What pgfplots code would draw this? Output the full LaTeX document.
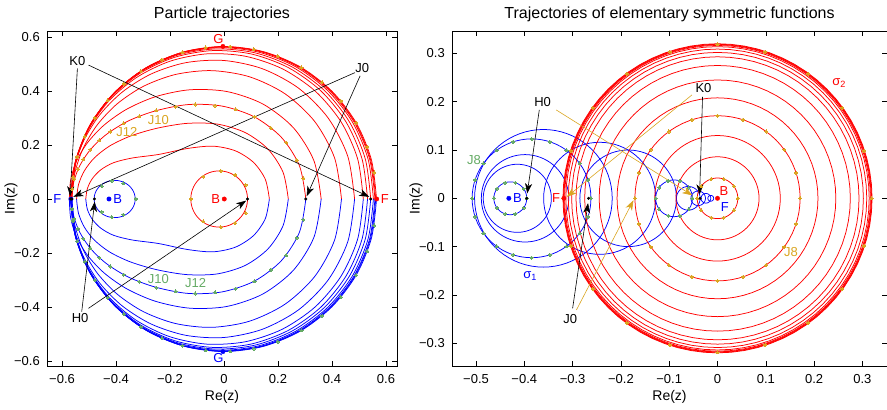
\documentclass[border=0pt]{standalone}
\usepackage{fontspec}
\setmainfont{Liberation Sans}
\usepackage{pgfplots}
\pgfplotsset{compat=1.18}
\usepackage{pgfplotstable}
\usetikzlibrary{arrows.meta}
\definecolor{jor}{RGB}{218,165,32}
\definecolor{jgr}{RGB}{100,170,100}
\newcommand{\fs}{\fontsize{13bp}{15bp}\selectfont}
\newcommand{\fl}{\fontsize{14bp}{16bp}\selectfont}
\newcommand{\ft}{\fontsize{16bp}{18bp}\selectfont}

\pgfplotstableread{
c s
1 0
0.99619 0.08716
0.98481 0.17365
0.96593 0.25882
0.93969 0.34202
0.90631 0.42262
0.86603 0.5
0.81915 0.57358
0.76604 0.64279
0.70711 0.70711
0.64279 0.76604
0.57358 0.81915
0.5 0.86603
0.42262 0.90631
0.34202 0.93969
0.25882 0.96593
0.17365 0.98481
0.08716 0.99619
0 1
-0.08716 0.99619
-0.17365 0.98481
-0.25882 0.96593
-0.34202 0.93969
-0.42262 0.90631
-0.5 0.86603
-0.57358 0.81915
-0.64279 0.76604
-0.70711 0.70711
-0.76604 0.64279
-0.81915 0.57358
-0.86603 0.5
-0.90631 0.42262
-0.93969 0.34202
-0.96593 0.25882
-0.98481 0.17365
-0.99619 0.08716
-1 0
-0.99619 -0.08716
-0.98481 -0.17365
-0.96593 -0.25882
-0.93969 -0.34202
-0.90631 -0.42262
-0.86603 -0.5
-0.81915 -0.57358
-0.76604 -0.64279
-0.70711 -0.70711
-0.64279 -0.76604
-0.57358 -0.81915
-0.5 -0.86603
-0.42262 -0.90631
-0.34202 -0.93969
-0.25882 -0.96593
-0.17365 -0.98481
-0.08716 -0.99619
0 -1
0.08716 -0.99619
0.17365 -0.98481
0.25882 -0.96593
0.34202 -0.93969
0.42262 -0.90631
0.5 -0.86603
0.57358 -0.81915
0.64279 -0.76604
0.70711 -0.70711
0.76604 -0.64279
0.81915 -0.57358
0.86603 -0.5
0.90631 -0.42262
0.93969 -0.34202
0.96593 -0.25882
0.98481 -0.17365
0.99619 -0.08716
1 0
}\unitcircle

\pgfplotstableread{
c s
1 0
0.95106 0.30902
0.80902 0.58779
0.58779 0.80902
0.30902 0.95106
0 1
-0.30902 0.95106
-0.58779 0.80902
-0.80902 0.58779
-0.95106 0.30902
-1 0
-0.95106 -0.30902
-0.80902 -0.58779
-0.58779 -0.80902
-0.30902 -0.95106
0 -1
0.30902 -0.95106
0.58779 -0.80902
0.80902 -0.58779
0.95106 -0.30902
}\dotsA

\pgfplotstableread{
c s
1 0
0.80902 0.58779
0.30902 0.95106
-0.30902 0.95106
-0.80902 0.58779
-1 0
-0.80902 -0.58779
-0.30902 -0.95106
0.30902 -0.95106
0.80902 -0.58779
}\dotsB

% ---- left plot: upper halves of the particle trajectories (red); lower halves are their mirror images (blue)
\pgfplotstableread{
x y
0.168 0
0.1527 0.0735
0.1089 0.1359
0.0421 0.1784
-0.0408 0.1956
-0.1356 0.1870
-0.2425 0.1649
-0.3400 0.1518
-0.4089 0.1345
-0.4566 0.1079
-0.4882 0.0748
-0.5061 0.0382
-0.512 0
}\tB
\pgfplotstableread{
x y
0.2381 0
0.2185 0.0993
0.1627 0.1849
0.0783 0.2461
-0.0248 0.2774
-0.1366 0.2801
-0.2475 0.2622
-0.3459 0.2333
-0.4234 0.1964
-0.4798 0.1526
-0.5175 0.1039
-0.5391 0.0525
-0.5461 0
}\tC
\pgfplotstableread{
x y
0.3031 0
0.2796 0.1225
0.2127 0.2281
0.1126 0.3041
-0.0072 0.3441
-0.1326 0.3497
-0.2535 0.3265
-0.3542 0.2892
-0.4353 0.2394
-0.4946 0.1831
-0.5342 0.1233
-0.5568 0.0620
-0.5641 0
}\tD
\pgfplotstableread{
x y
0.3599 0
0.3330 0.1418
0.2568 0.2641
0.1437 0.3519
0.0101 0.3981
-0.1271 0.4044
-0.2540 0.3788
-0.3615 0.3319
-0.4456 0.2725
-0.5067 0.2069
-0.5473 0.1385
-0.5680 0.0693
-0.5730 0
}\tE
\pgfplotstableread{
x y
0.4351 0
0.4095 0.1520
0.3364 0.2864
0.2263 0.3894
0.0937 0.4528
-0.0462 0.4754
-0.1800 0.4611
-0.2983 0.4174
-0.3957 0.3524
-0.4703 0.2734
-0.5224 0.1859
-0.5530 0.0940
-0.5631 0
}\tF
\pgfplotstableread{
x y
0.4836 0
0.4584 0.1580
0.3861 0.2994
0.2762 0.4104
0.1420 0.4825
-0.0019 0.5131
-0.1425 0.5047
-0.2697 0.4631
-0.3770 0.3959
-0.4612 0.3104
-0.5211 0.2128
-0.5568 0.1080
-0.5686 0
}\tG
\pgfplotstableread{
x y
0.5159 0
0.4948 0.1489
0.4335 0.2857
0.3377 0.3996
0.2160 0.4822
0.0785 0.5288
-0.0640 0.5375
-0.2014 0.5098
-0.3250 0.4493
-0.4277 0.3616
-0.5045 0.2528
-0.5519 0.1299
-0.5679 0
}\tH
\pgfplotstableread{
x y
0.5316 0
0.5112 0.1484
0.4518 0.2854
0.3583 0.4008
0.2384 0.4865
0.1014 0.5370
-0.0425 0.5496
-0.1831 0.5247
-0.3112 0.4653
-0.4188 0.3763
-0.5000 0.2642
-0.5505 0.1361
-0.5676 0
}\tI
\pgfplotstableread{
x y
0.5434 0
0.5234 0.1476
0.4652 0.2844
0.3731 0.4006
0.2542 0.4879
0.1174 0.5407
-0.0275 0.5559
-0.1704 0.5332
-0.3017 0.4749
-0.4131 0.3856
-0.4977 0.2714
-0.5504 0.1401
-0.5684 0
}\tJ
\pgfplotstableread{
x y
0.5534 0
0.5336 0.1475
0.4758 0.2845
0.3842 0.4012
0.2657 0.4896
0.1287 0.5438
-0.0170 0.5604
-0.1614 0.5388
-0.2947 0.4810
-0.4082 0.3912
-0.4948 0.2759
-0.5489 0.1425
-0.5674 0
}\tK
\pgfplotstableread{
x y
0.5590 0
0.5395 0.1472
0.4821 0.2841
0.3911 0.4011
0.2730 0.4902
0.1361 0.5454
-0.0100 0.5630
-0.1553 0.5424
-0.2900 0.4850
-0.4051 0.3951
-0.4931 0.2789
-0.5483 0.1442
-0.5670 0
}\tL
\pgfplotstableread{
x y
0.5620 0
0.5427 0.1460
0.4860 0.2826
0.3960 0.4000
0.2785 0.4895
0.1420 0.5455
-0.0050 0.5640
-0.1505 0.5440
-0.2860 0.4875
-0.4020 0.3972
-0.4910 0.2810
-0.5470 0.1452
-0.5665 0
}\tLb
\pgfplotstableread{
x y
0.565 0
0.5457 0.1462
0.4893 0.2825
0.3995 0.3995
0.2825 0.4893
0.1462 0.5457
0 0.565
-0.1462 0.5457
-0.2825 0.4893
-0.3995 0.3995
-0.4893 0.2825
-0.5457 0.1462
-0.565 0
}\tM
% time marks on the J0 trajectory (upper half) and on the outer trajectory (upper half)
\pgfplotstableread{
x y
0.294 0.077
0.269 0.144
0.230 0.209
0.174 0.262
0.113 0.304
0.043 0.332
-0.033 0.346
-0.107 0.350
-0.179 0.342
-0.251 0.328
-0.314 0.306
-0.372 0.280
-0.421 0.250
-0.462 0.217
-0.495 0.183
-0.521 0.147
-0.541 0.110
-0.554 0.074
-0.562 0.037
}\mD
\pgfplotstableread{
x y
0.5564 0.0981
0.5309 0.1932
0.4893 0.2825
0.4328 0.3632
0.3632 0.4328
0.2868 0.4868
0.1997 0.5285
0.1107 0.5540
0.0227 0.5645
-0.0679 0.5609
-0.1538 0.5437
-0.2298 0.5162
-0.3077 0.4738
-0.3707 0.4264
-0.4309 0.3654
-0.4786 0.3003
-0.5153 0.2316
-0.5431 0.1557
-0.5592 0.0806
}\mM
\pgfplotstableread{
x y
-0.123 0
-0.077 0.083
-0.012 0.104
0.041 0.089
0.080 0.052
0.080 -0.052
0.041 -0.089
-0.012 -0.104
-0.077 -0.083
}\mRL
\pgfplotstableread{
x y
-0.453 0.048
-0.416 0.067
-0.373 0.058
-0.326 0
-0.373 -0.058
-0.416 -0.067
-0.453 -0.048
}\mBL

\tikzset{arr/.style={-{Stealth[length=10bp,width=7bp,inset=2.8bp]}, line width=0.6bp}}
\pgfplotsset{tm/.style={only marks, mark=*, mark size=1.55bp, color=#1, mark options={fill=#1, draw=#1, line width=0pt}}}
\newcommand{\traj}[1]{%
  \addplot[blue, line width=0.75bp, smooth] table[x=x, y expr=-\thisrow{y}]{#1};
  \addplot[red, line width=0.75bp, smooth] table[x=x, y=y]{#1};}
\newcommand{\ring}[5]{%
  \addplot[#5, line width=0.75bp] table[x expr={#1+(#3)*\thisrow{c}}, y expr={#2+(#4)*\thisrow{s}}]{\unitcircle};}
\newcommand{\ringdots}[6]{%
  \addplot[tm=#5] table[x expr={#1+(#3)*\thisrow{c}}, y expr={#2+(#4)*\thisrow{s}}]{#6};}

\pgfplotsset{base/.style={anchor=south west, scale only axis, tick align=inside,
  tick pos=both, xticklabel pos=lower, yticklabel pos=left,
  major tick length=5bp, every tick/.style={black, line width=0.5bp},
  axis line style={line width=0.6bp},
  every tick label/.append style={font=\fs},
  xticklabel style={anchor=base, yshift=-17bp},
  yticklabel style={anchor=east, inner sep=0pt, xshift=-7bp},
  clip=true}}

\begin{document}
\begin{tikzpicture}
\path[use as bounding box] (0,0) rectangle (887bp,410bp);
% ================= LEFT =================
\begin{axis}[base, at={(47bp,44bp)}, width=350bp, height=335bp,
  xmin=-0.6556, xmax=0.6407, ymin=-0.6185, ymax=0.6222,
  xtick={-0.6,-0.4,-0.2,0,0.2,0.4,0.6},
  xticklabels={−0.6,−0.4,−0.2,0,0.2,0.4,0.6},
  ytick={-0.6,-0.4,-0.2,0,0.2,0.4,0.6},
  yticklabels={−0.6,−0.4,−0.2,0,0.2,0.4,0.6}]
\traj{\tB}\traj{\tC}\traj{\tD}\traj{\tE}\traj{\tF}\traj{\tG}
\traj{\tH}\traj{\tI}\traj{\tJ}\traj{\tK}\traj{\tL}\traj{\tLb}\traj{\tM}
\ring{-0.018}{0}{0.105}{0.104}{red}
\ring{-0.405}{0}{0.076}{0.069}{blue}
% time marks
\addplot[tm=jor] table[x=x, y=y]{\mD};
\addplot[tm=jgr] table[x=x, y expr=-\thisrow{y}]{\mD};
\addplot[tm=jor] table[x=x, y=y]{\mM};
\addplot[tm=jgr] table[x=x, y expr=-\thisrow{y}]{\mM};
\addplot[tm=jor] table[x=x, y=y]{\mRL};
\addplot[tm=jgr] table[x=x, y=y]{\mBL};
% special points
\addplot[only marks, mark=*, mark size=2.2bp, blue] coordinates {(-0.426,0) (-0.567,0) (-0.004,-0.565)};
\addplot[only marks, mark=*, mark size=2.2bp, red] coordinates {(0.001,0) (0.5654,0) (-0.004,0.565)};
\addplot[only marks, mark=*, mark size=1.3bp, black] coordinates {(0.087,0) (-0.48,0) (0.303,0) (-0.564,0) (0.5434,0) (-0.568,0)};
% arrows
\draw[arr] (axis cs:-0.543,0.484) -- (axis cs:-0.570,0.010);
\draw[arr] (axis cs:-0.502,0.496) -- (axis cs:0.538,0.008);
\draw[arr] (axis cs:0.485,0.468) -- (axis cs:-0.558,0.008);
\draw[arr] (axis cs:0.504,0.456) -- (axis cs:0.306,0.010);
\draw[arr] (axis cs:-0.527,-0.417) -- (axis cs:-0.479,-0.010);
\draw[arr] (axis cs:-0.502,-0.405) -- (axis cs:0.082,-0.006);
% labels
\node[font=\fs] at (axis cs:-0.543,0.511) {K0};
\node[font=\fs] at (axis cs:0.512,0.486) {J0};
\node[font=\fs] at (axis cs:-0.533,-0.442) {H0};
\node[font=\fs, text=jor] at (axis cs:-0.36,0.248) {J12};
\node[font=\fs, text=jor] at (axis cs:-0.243,0.291) {J10};
\node[font=\fs, text=jgr] at (axis cs:-0.243,-0.296) {J10};
\node[font=\fs, text=jgr] at (axis cs:-0.105,-0.311) {J12};
\node[font=\fs, text=blue] at (axis cs:-0.394,0) {B};
\node[font=\fs, text=red] at (axis cs:-0.031,0) {B};
\node[font=\fs, text=blue] at (axis cs:-0.617,0) {F};
\node[font=\fs, text=red] at (axis cs:0.596,0) {F};
\node[font=\fs, text=red] at (axis cs:-0.021,0.591) {G};
\node[font=\fs, text=blue] at (axis cs:-0.021,-0.590) {G};
\end{axis}
% ================= RIGHT =================
\begin{axis}[base, at={(452bp,44bp)}, width=435bp, height=335bp,
  xmin=-0.5497, xmax=0.3509, ymin=-0.3472, ymax=0.3464,
  xtick={-0.5,-0.4,-0.3,-0.2,-0.1,0,0.1,0.2,0.3},
  xticklabels={−0.5,−0.4,−0.3,−0.2,−0.1,0,0.1,0.2,0.3},
  ytick={-0.3,-0.2,-0.1,0,0.1,0.2,0.3},
  yticklabels={−0.3,−0.2,−0.1,0,0.1,0.2,0.3}]
% sigma_1 circles (blue)
\ring{-0.429}{0}{0.034}{0.034}{blue}
\ring{-0.4145}{0}{0.0705}{0.0705}{blue}
\ring{-0.3985}{0}{0.0905}{0.0905}{blue}
\ring{-0.385}{0}{0.123}{0.123}{blue}
\ring{-0.3605}{0}{0.1425}{0.1425}{blue}
\ring{-0.244}{0}{0.116}{0.116}{blue}
\ring{-0.185}{0}{0.100}{0.100}{blue}
\ring{-0.090}{0}{0.038}{0.038}{blue}
\ring{-0.0605}{0}{0.0245}{0.0245}{blue}
\ring{-0.040}{0}{0.015}{0.015}{blue}
\ring{-0.024}{0}{0.010}{0.010}{blue}
\ring{-0.014}{0}{0.006}{0.006}{blue}
% sigma_2 circles (red)
\ring{0}{0}{0.042}{0.042}{red}
\ring{0}{0}{0.086}{0.086}{red}
\ring{0}{0}{0.130}{0.130}{red}
\ring{0}{0}{0.171}{0.171}{red}
\ring{0}{0}{0.208}{0.208}{red}
\ring{0}{0}{0.245}{0.245}{red}
\ring{0}{0}{0.275}{0.275}{red}
\ring{0}{0}{0.293}{0.293}{red}
\ring{0}{0}{0.302}{0.302}{red}
\ring{0}{0}{0.309}{0.309}{red}
\ring{0}{0}{0.314}{0.314}{red}
\ring{0}{0}{0.3165}{0.3165}{red}
\ring{0}{0}{0.318}{0.318}{red}
\ring{0}{0}{0.319}{0.319}{red}
\ring{0}{0}{0.320}{0.320}{red}
% time marks
\ringdots{0}{0}{0.319}{0.319}{jor}{\dotsA}
\ringdots{0}{0}{0.171}{0.171}{jor}{\dotsA}
\ringdots{0}{0}{0.042}{0.042}{jor}{\dotsB}
\ringdots{-0.385}{0}{0.123}{0.123}{jgr}{\dotsA}
\ringdots{-0.429}{0}{0.034}{0.034}{jgr}{\dotsB}
\ringdots{-0.090}{0}{0.038}{0.038}{jgr}{\dotsB}
% special points
\addplot[only marks, mark=*, mark size=2.2bp, blue] coordinates {(-0.432,0)};
\addplot[only marks, mark=*, mark size=2.2bp, red] coordinates {(-0.318,0) (0,0)};
\addplot[only marks, mark=*, mark size=1.3bp, black] coordinates {(-0.395,0) (-0.267,0) (-0.036,0)};
% arrows
\draw[arr] (axis cs:-0.369,0.183) -- (axis cs:-0.394,0.010);
\draw[arr] (axis cs:-0.300,-0.228) -- (axis cs:-0.268,-0.010);
\draw[arr] (axis cs:-0.031,0.210) -- (axis cs:-0.037,0.008);
\draw[arr, jor] (axis cs:-0.334,0.183) -- (axis cs:-0.052,0.006);
\draw[arr, jor] (axis cs:-0.292,-0.231) -- (axis cs:-0.174,-0.004);
\draw[arr, jor] (axis cs:-0.053,0.214) -- (axis cs:-0.312,0.003);
% labels
\node[font=\fs] at (axis cs:-0.362,0.200) {H0};
\node[font=\fs] at (axis cs:-0.305,-0.250) {J0};
\node[font=\fs] at (axis cs:-0.029,0.228) {K0};
\node[font=\fs, text=red] at (axis cs:0.2516,0.238) {σ\textsubscript{2}};
\node[font=\fs, text=blue] at (axis cs:-0.388,-0.161) {σ\textsubscript{1}};
\node[font=\fs, text=jgr] at (axis cs:-0.504,0.080) {J8};
\node[font=\fs, text=jor] at (axis cs:0.152,-0.1105) {J8};
\node[font=\fs, text=blue] at (axis cs:-0.414,0) {B};
\node[font=\fs, text=red] at (axis cs:-0.334,0) {F};
\node[font=\fs, text=red] at (axis cs:0.0135,0.016) {B};
\node[font=\fs, text=blue] at (axis cs:0.015,-0.019) {F};
\end{axis}
% titles and axis labels
\node[anchor=base, font=\ft] at (222bp,391bp) {Particle trajectories};
\node[anchor=base, font=\ft] at (669.5bp,391bp) {Trajectories of elementary symmetric functions};
\node[anchor=base, font=\fl] at (222bp,10bp) {Re(z)};
\node[anchor=base, font=\fl] at (669.5bp,10bp) {Re(z)};
\node[rotate=90, font=\fl] at (11bp,211.5bp) {Im(z)};
\node[rotate=90, font=\fl] at (416bp,211.5bp) {Im(z)};
\end{tikzpicture}
\end{document}
